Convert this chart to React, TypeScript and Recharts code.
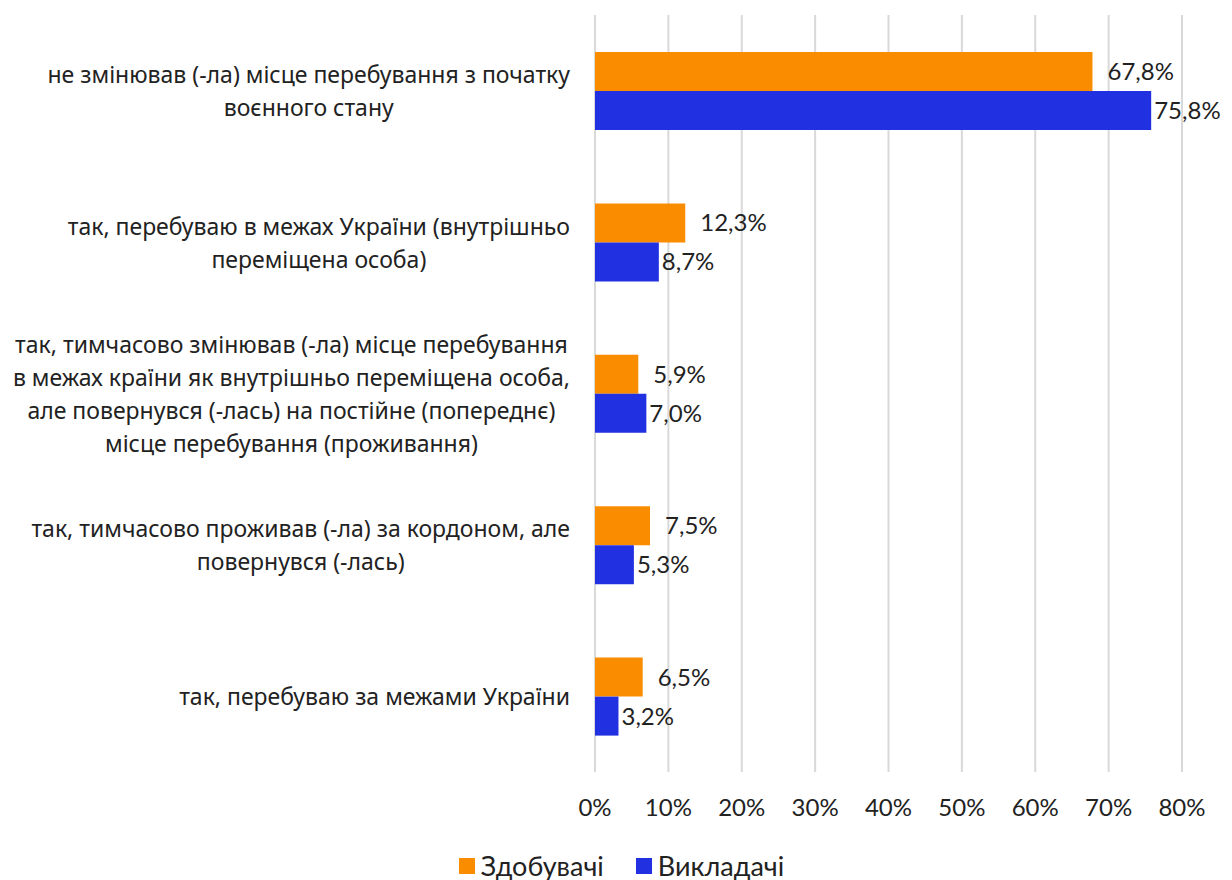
import React from 'react';
import { BarChart, Bar, XAxis, YAxis, CartesianGrid, Legend, LabelList } from 'recharts';

const categories = [
    ['не змінював (-ла) місце перебування з початку', 'воєнного стану'],
    ['так, перебуваю в межах України (внутрішньо', 'переміщена особа)'],
    [
        'так, тимчасово змінював (-ла) місце перебування',
        'в межах країни як внутрішньо переміщена особа,',
        'але повернувся (-лась) на постійне (попереднє)',
        'місце перебування (проживання)',
    ],
    ['так, тимчасово проживав (-ла) за кордоном, але', 'повернувся (-лась)'],
    ['так, перебуваю за межами України'],
];
const students = [67.8, 12.3, 5.9, 7.5, 6.5];
const teachers = [75.8, 8.7, 7.0, 5.3, 3.2];
const xTicks = [0, 10, 20, 30, 40, 50, 60, 70, 80];
const seriesNames = ['Здобувачі', 'Викладачі'];
const seriesColors = ['#fa8c00', '#2130e0'];

const data = categories.map((lines, i) => ({
    name: lines.join(' '),
    students: students[i],
    teachers: teachers[i],
}));

const FONT = '"Noto Sans", "Open Sans", sans-serif';
const NUM_FONT = 'Lato, sans-serif';
const LABEL_SIZE = 23;
const LINE_H = 33;

let ctx: CanvasRenderingContext2D | null = null;
const measure = (s: string) => {
    if (!ctx) ctx = document.createElement('canvas').getContext('2d');
    if (!ctx) return s.length * 10;
    ctx.font = `${LABEL_SIZE}px ${FONT}`;
    return ctx.measureText(s).width;
};

const CategoryTick = (props: any) => {
    const { y, index } = props;
    const lines = categories[index] || [];
    const w = Math.max(...lines.map(measure));
    const cx = 570 - w / 2;
    const top = y - ((lines.length - 1) * LINE_H) / 2;
    return (
        <g>
            {lines.map((l, i) => (
                <text
                    key={i}
                    x={cx}
                    y={top + i * LINE_H}
                    textAnchor="middle"
                    dominantBaseline="central"
                    fontSize={LABEL_SIZE}
                    fontFamily={FONT}
                    fill="#222"
                >
                    {l}
                </text>
            ))}
        </g>
    );
};

const LegendContent = () => (
    <div
        style={{
            display: 'flex',
            justifyContent: 'center',
            gap: 32,
            paddingTop: 15,
            paddingLeft: 61,
            fontFamily: NUM_FONT,
            fontSize: 27,
            color: '#222',
        }}
    >
        {seriesNames.map((n, i) => (
            <div key={n} style={{ display: 'flex', alignItems: 'center', gap: 6 }}>
                <span style={{ width: 16, height: 16, background: seriesColors[i], display: 'inline-block' }} />
                <span>{n}</span>
            </div>
        ))}
    </div>
);

const fmt = (v: any) => `${Number(v).toFixed(1).replace('.', ',')}%`;

const App = () => {
    return (
        <div style={{ position: 'absolute', left: 0, top: 0, background: '#fff' }}>
            <BarChart
                width={1232}
                height={880}
                data={data}
                layout="vertical"
                margin={{ top: 15, right: 50, bottom: 0, left: 0 }}
                barGap={0}
                barSize={39}
            >
                <CartesianGrid horizontal={false} stroke="#d9d9d9" strokeWidth={2} />
                <XAxis
                    type="number"
                    domain={[0, 80]}
                    ticks={xTicks}
                    tickFormatter={(v) => `${v}%`}
                    axisLine={false}
                    tickLine={false}
                    tickMargin={21}
                    height={62}
                    tick={{ fontSize: 24, fill: '#222', fontFamily: NUM_FONT }}
                />
                <YAxis
                    type="category"
                    dataKey="name"
                    width={595}
                    axisLine={false}
                    tickLine={false}
                    tick={<CategoryTick />}
                    interval={0}
                />
                <Legend verticalAlign="bottom" height={46} content={<LegendContent />} />
                <Bar dataKey="students" name={seriesNames[0]} fill={seriesColors[0]} isAnimationActive={false}>
                    <LabelList dataKey="students" position="right" offset={15} formatter={fmt} fontSize={24} fill="#222" fontFamily={NUM_FONT} />
                </Bar>
                <Bar dataKey="teachers" name={seriesNames[1]} fill={seriesColors[1]} isAnimationActive={false}>
                    <LabelList dataKey="teachers" position="right" offset={3} formatter={fmt} fontSize={24} fill="#222" fontFamily={NUM_FONT} />
                </Bar>
            </BarChart>
        </div>
    );
};

export default App;
